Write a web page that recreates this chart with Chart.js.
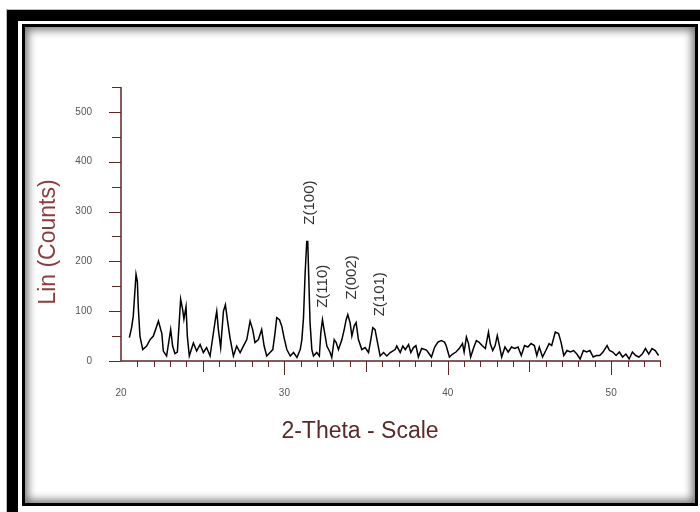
<!DOCTYPE html>
<html>
<head>
<meta charset="utf-8">
<script src="https://cdn.jsdelivr.net/npm/chart.js@4/dist/chart.umd.min.js"></script>
<style>
  body { margin: 0; width: 700px; height: 512px; position: relative; overflow: hidden; background: #fff; }
  #outer { position: absolute; left: 7px; top: 10px; width: 800px; height: 600px; border: 11px solid #000; outline: 1px solid #bbb; }
  #inner { position: absolute; left: 22px; top: 24px; width: 670px; height: 476px; border: 3px solid #000;
           box-shadow: inset 0 0 9px 3px rgba(0,0,0,0.55); background: #fff; }
  #myChart { position: absolute; left: 0; top: 0; }
</style>
</head>
<body>
<div id="outer"></div>
<div id="inner"></div>
<canvas id="myChart" width="700" height="512"></canvas>
<script>
const twoTheta = [
  20.51, 20.65, 20.75, 20.92, 21.0, 21.06, 21.16, 21.33, 21.57, 21.78, 21.98, 22.29, 22.5, 22.59, 22.79,
  23.04, 23.16, 23.3, 23.45, 23.65, 23.77, 23.85, 23.98, 24.06, 24.18, 24.43, 24.63, 24.84, 25.04, 25.24,
  25.45, 25.76, 25.86, 25.96, 26.1, 26.27, 26.39, 26.51, 26.67, 26.88, 27.08, 27.29, 27.49, 27.7, 27.9,
  28.06, 28.2, 28.41, 28.61, 28.76, 28.92, 29.12, 29.29, 29.43, 29.53, 29.7, 29.84, 29.98, 30.15, 30.36,
  30.56, 30.77, 30.97, 31.07, 31.17, 31.27, 31.37, 31.43, 31.49, 31.57, 31.68, 31.78, 31.98, 32.14, 32.23,
  32.33, 32.43, 32.6, 32.8, 32.9, 33.05, 33.17, 33.31, 33.52, 33.66, 33.78, 33.88, 34.02, 34.13, 34.27,
  34.39, 34.53, 34.74, 34.94, 35.15, 35.29, 35.41, 35.55, 35.7, 35.86, 36.07, 36.27, 36.48, 36.78, 36.88,
  37.09, 37.25, 37.4, 37.6, 37.74, 37.9, 38.05, 38.2, 38.4, 38.7, 39.0, 39.2, 39.4, 39.6, 39.8,
  39.9, 40.1, 40.3, 40.5, 40.7, 40.9, 41.0, 41.14, 41.27, 41.4, 41.6, 41.75, 41.9, 42.1, 42.3,
  42.49, 42.6, 42.75, 42.9, 43.03, 43.16, 43.3, 43.5, 43.7, 43.9, 44.1, 44.3, 44.5, 44.7, 44.9,
  45.1, 45.3, 45.45, 45.6, 45.8, 46.0, 46.2, 46.36, 46.58, 46.78, 46.93, 47.1, 47.3, 47.5, 47.7,
  47.9, 48.1, 48.3, 48.5, 48.7, 48.9, 49.1, 49.3, 49.5, 49.75, 49.9, 50.1, 50.3, 50.5, 50.7,
  50.9, 51.1, 51.3, 51.5, 51.7, 51.9, 52.1, 52.3, 52.5, 52.7, 52.9
];
const counts = [
  47, 67, 90, 174, 160, 107, 50, 23, 30, 43, 50, 80, 55, 20, 10,
  63, 30, 15, 18, 124, 104, 84, 109, 50, 10, 36, 20, 33, 17, 27,
  10, 80, 100, 63, 27, 100, 113, 83, 47, 10, 30, 17, 30, 43, 80,
  63, 37, 43, 63, 30, 10, 17, 23, 57, 87, 83, 70, 47, 23, 10,
  17, 7, 23, 43, 87, 177, 240, 240, 170, 77, 23, 10, 17, 10, 57,
  83, 63, 30, 17, 7, 43, 37, 23, 43, 63, 83, 93, 77, 50, 70,
  77, 43, 23, 27, 17, 43, 67, 63, 37, 10, 17, 10, 17, 23, 30,
  17, 30, 23, 33, 17, 27, 31, 8, 25, 22, 8, 28, 38, 41, 38,
  31, 8, 14, 18, 25, 35, 18, 48, 35, 8, 28, 41, 38, 31, 25,
  58, 35, 21, 31, 51, 31, 8, 28, 18, 28, 25, 28, 11, 31, 28,
  35, 31, 11, 28, 8, 21, 35, 31, 58, 55, 38, 11, 21, 18, 21,
  14, 4, 21, 18, 21, 8, 11, 11, 18, 31, 21, 18, 11, 18, 8,
  14, 4, 18, 11, 8, 14, 25, 14, 25, 21, 11
];
const yTicks = [0, 100, 200, 300, 400, 500];
const xTicks = [20, 30, 40, 50];
const peakLabels = ["Z(100)", "Z(110)", "Z(002)", "Z(101)"];
const peakX = [31.57, 32.35, 34.13, 35.86];
const peakY = [318, 150, 168, 134];

const axisColor = "#5e2626";

const points = [];
for (let i = 0; i < twoTheta.length; i++) {
  points.push({ x: twoTheta[i], y: counts[i] });
}

// axis lines, tick marks, titles and peak labels
const xrdDecor = {
  id: "xrdDecor",
  afterDraw(chart) {
    const ctx = chart.ctx;
    const xs = chart.scales.x;
    const ys = chart.scales.y;
    const x0 = xs.getPixelForValue(20);
    const y0 = ys.getPixelForValue(0);
    ctx.save();
    ctx.strokeStyle = axisColor;
    ctx.lineWidth = 1.5;
    ctx.beginPath();
    ctx.moveTo(x0, ys.getPixelForValue(550));
    ctx.lineTo(x0, y0);
    ctx.lineTo(xs.getPixelForValue(53.05), y0);
    ctx.stroke();

    ctx.lineWidth = 1;
    ctx.beginPath();
    for (let v = 0; v <= 550; v += 50) {
      const py = Math.round(ys.getPixelForValue(v)) + 0.5;
      const len = v % 100 === 0 ? 12 : 9;
      ctx.moveTo(x0 - len, py);
      ctx.lineTo(x0, py);
    }
    for (let v = 21; v <= 53; v++) {
      const px = Math.round(xs.getPixelForValue(v)) + 0.5;
      let len = 6;
      if (v % 10 === 0) len = 14;
      else if (v % 5 === 0) len = 11;
      ctx.moveTo(px, y0);
      ctx.lineTo(px, y0 + len);
    }
    ctx.stroke();

    ctx.textAlign = "center";
    ctx.textBaseline = "middle";
    ctx.font = "23px 'Liberation Sans', Arial, sans-serif";
    ctx.fillStyle = "#5a2a2a";
    ctx.fillText("2-Theta - Scale", 360, 432);

    ctx.save();
    ctx.translate(49, 242);
    ctx.rotate(-Math.PI / 2);
    ctx.fillStyle = "#8c3c3c";
    ctx.fillText("Lin (Counts)", 0, 0);
    ctx.restore();

    ctx.font = "15px 'Liberation Sans', Arial, sans-serif";
    ctx.fillStyle = "#333";
    for (let i = 0; i < peakLabels.length; i++) {
      ctx.save();
      ctx.translate(xs.getPixelForValue(peakX[i]), ys.getPixelForValue(peakY[i]));
      ctx.rotate(-Math.PI / 2);
      ctx.fillText(peakLabels[i], 0, 0);
      ctx.restore();
    }
    ctx.restore();
  },
};

const config = {
  type: "line",
  data: {
    datasets: [
      {
        data: points,
        borderColor: "#000",
        borderWidth: 1.5,
        pointRadius: 0,
        tension: 0,
      },
    ],
  },
  options: {
    responsive: false,
    animation: false,
    layout: { padding: { top: 87, right: 39, left: 0, bottom: 0 } },
    plugins: { legend: { display: false }, tooltip: { enabled: false } },
    scales: {
      x: {
        type: "linear",
        min: 20,
        max: 53.05,
        border: { display: false },
        grid: { drawOnChartArea: false, tickLength: 14, tickColor: "rgba(0,0,0,0)" },
        ticks: {
          includeBounds: false,
          stepSize: 10,
          padding: 12,
          color: "#555",
          font: { size: 10, family: "'Liberation Sans', Arial, sans-serif" },
          callback: (v) => (xTicks.includes(v) ? v : ""),
        },
        afterFit: (scale) => { scale.height = 151; },
      },
      y: {
        min: 0,
        max: 550,
        border: { display: false },
        grid: { drawOnChartArea: false, tickLength: 12, tickColor: "rgba(0,0,0,0)" },
        ticks: {
          includeBounds: false,
          stepSize: 100,
          padding: 17,
          color: "#555",
          font: { size: 10, family: "'Liberation Sans', Arial, sans-serif" },
          callback: (v) => (yTicks.includes(v) ? v : ""),
        },
        afterFit: (scale) => { scale.width = 121; },
      },
    },
  },
  plugins: [xrdDecor],
};

const myChart = new Chart(document.getElementById("myChart"), config);
</script>
</body>
</html>
